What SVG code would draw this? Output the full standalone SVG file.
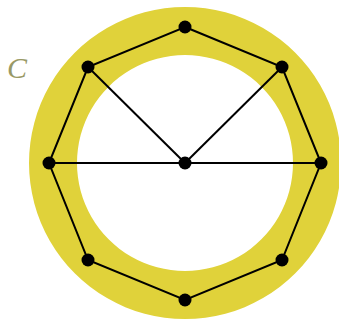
<svg xmlns="http://www.w3.org/2000/svg" width="339" height="320" viewBox="0 0 339 320">
<style>
.e{stroke:#000;stroke-width:2;fill:none}
.n{fill:#000}
</style>
<rect width="339" height="320" fill="#fff"/>
<path id="region" d="M185,7a156,156 0 1,0 0.01,0ZM185,55a108,108 0 1,1 -0.01,0Z" fill="#e0d23a" fill-rule="evenodd"/>
<text x="7" y="78" font-family="Liberation Serif, serif" font-style="italic" font-size="30" fill="#999966">C</text>
<g id="connectors">
<polygon class="e" points="185,27 282,67 321,163 282,260 185,300 88,260 49,163 88,67"/>
<line class="e" x1="185" y1="163" x2="88" y2="67"/>
<line class="e" x1="185" y1="163" x2="282" y2="67"/>
<line class="e" x1="185" y1="163" x2="49" y2="163"/>
<line class="e" x1="185" y1="163" x2="321" y2="163"/>
</g>
<g id="n0"><circle class="n" cx="185" cy="27" r="6.5"/></g>
<g id="n1"><circle class="n" cx="282" cy="67" r="6.5"/></g>
<g id="n2"><circle class="n" cx="321" cy="163" r="6.5"/></g>
<g id="n3"><circle class="n" cx="282" cy="260" r="6.5"/></g>
<g id="n4"><circle class="n" cx="185" cy="300" r="6.5"/></g>
<g id="n5"><circle class="n" cx="88" cy="260" r="6.5"/></g>
<g id="n6"><circle class="n" cx="49" cy="163" r="6.5"/></g>
<g id="n7"><circle class="n" cx="88" cy="67" r="6.5"/></g>
<g id="center"><circle class="n" cx="185" cy="163" r="6.5"/></g>
</svg>
